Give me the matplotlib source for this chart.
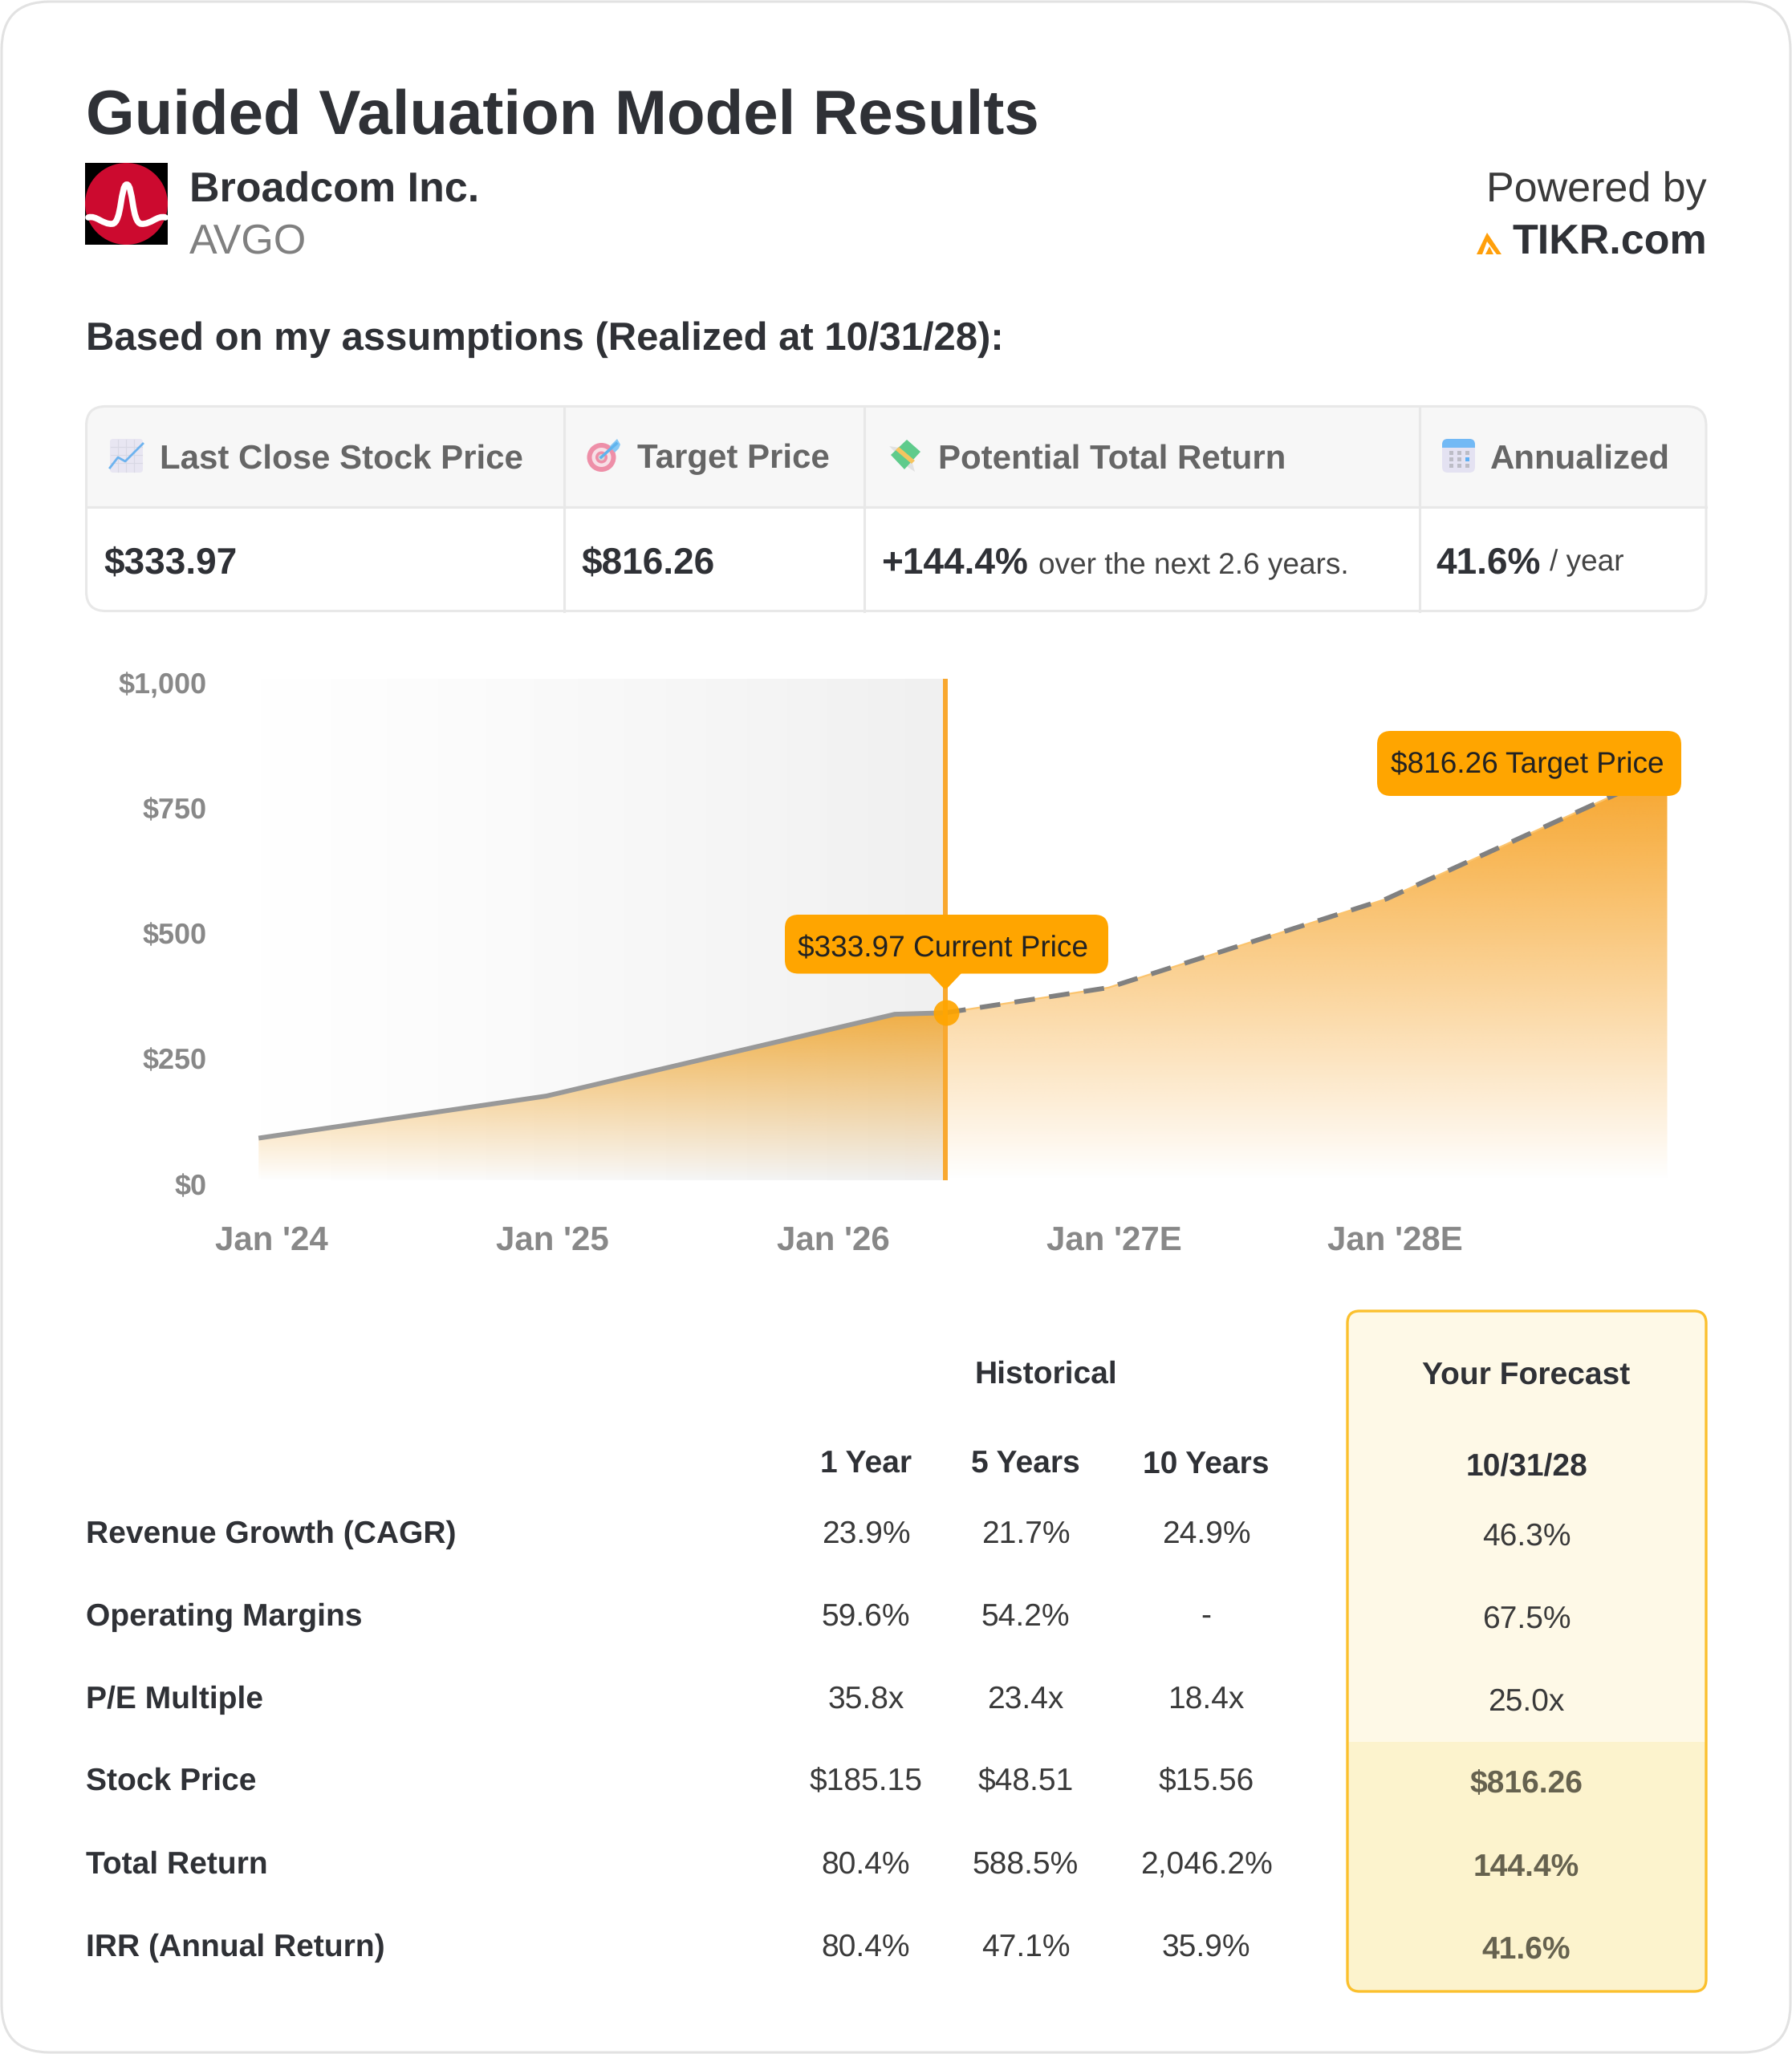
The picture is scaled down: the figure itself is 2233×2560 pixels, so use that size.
import numpy as np
import matplotlib
matplotlib.use("Agg")
import matplotlib.pyplot as plt
from matplotlib.patches import FancyBboxPatch, Rectangle, Ellipse, Polygon, Circle, PathPatch
from matplotlib.path import Path
from matplotlib.textpath import TextPath
from matplotlib.font_manager import FontProperties
from matplotlib.colors import to_rgb
from matplotlib.transforms import ScaledTranslation

plt.rcParams['font.family'] = ['Liberation Sans', 'DejaVu Sans']
plt.rcParams['text.hinting'] = 'no_hinting'
plt.rcParams['text.hinting_factor'] = 1

# ---------- data ----------
hist_years = [2023.955, 2024.98, 2026.22, 2026.40]
hist_prices = [84, 168, 331, 333.97]
fc_years = [2026.40, 2026.98, 2027.97, 2028.97]
fc_prices = [333.97, 384, 561, 816.26]
current_price = 333.97
target_price = 816.26
x_ticks = [2024, 2025, 2026, 2027, 2028]
x_labels = ["Jan '24", "Jan '25", "Jan '26", "Jan '27E", "Jan '28E"]
y_ticks = [0, 250, 500, 750, 1000]
y_labels = ["$0", "$250", "$500", "$750", "$1,000"]

row_labels = ["Revenue Growth (CAGR)", "Operating Margins", "P/E Multiple",
              "Stock Price", "Total Return", "IRR (Annual Return)"]
col_labels = ["1 Year", "5 Years", "10 Years"]
one_year = ["23.9%", "59.6%", "35.8x", "$185.15", "80.4%", "80.4%"]
five_years = ["21.7%", "54.2%", "23.4x", "$48.51", "588.5%", "47.1%"]
ten_years = ["24.9%", "-", "18.4x", "$15.56", "2,046.2%", "35.9%"]
forecast = ["46.3%", "67.5%", "25.0x", "$816.26", "144.4%", "41.6%"]

W, H = 2233, 2560
fig = plt.figure(figsize=(W / 100, H / 100), dpi=100, facecolor='white')

bg = fig.add_axes([0, 0, 1, 1], zorder=0)
bg.set_xlim(0, W); bg.set_ylim(H, 0); bg.axis('off')
top = fig.add_axes([0, 0, 1, 1], zorder=5)
top.set_xlim(0, W); top.set_ylim(H, 0); top.axis('off'); top.patch.set_alpha(0)


def S(s, w, weight='normal'):
    fp = FontProperties(family='Liberation Sans', weight=weight)
    return w * 72 / TextPath((0, 0), s, size=100, prop=fp).get_extents().width


def T(a, x, yc, s, size, weight='normal', color='#333333', ha='left'):
    a.text(x, yc + 0.358 * size / 0.72, s, fontsize=size, fontweight=weight,
           color=color, ha=ha, va='baseline')


def RB(a, x0, y0, x1, y1, r, **kw):
    p = FancyBboxPatch((x0, y0), x1 - x0, y1 - y0,
                       boxstyle=f"round,pad=0,rounding_size={r}", **kw)
    a.add_patch(p)
    return p


# outer card
RB(bg, 2, 2, W - 2, H - 2, 60, fc='white', ec='#e2e2e2', lw=2.2)

# ---------- header ----------
DARK = '#2f3136'
T(bg, 107, 139, "Guided Valuation Model Results",
  S("Guided Valuation Model Results", 1177, 'bold'), 'bold', DARK)

bg.add_patch(Rectangle((106, 203), 103, 102, fc='black', ec='none'))
bg.add_patch(Ellipse((157.5, 254), 103, 102, fc='#cc0a2f', ec='none'))
wave = Path([(110, 271), (120, 268), (128, 280), (140, 279), (152, 278), (150, 230), (158, 230),
             (166, 230), (164, 278), (176, 279), (188, 280), (196, 268), (206, 271)],
            [Path.MOVETO] + [Path.CURVE4] * 12)
bg.add_patch(PathPatch(wave, fc='none', ec='white', lw=5.5, capstyle='round'))

T(bg, 236, 233, "Broadcom Inc.", S("Broadcom Inc.", 351, 'bold'), 'bold', DARK)
T(bg, 236, 297, "AVGO", S("AVGO", 144), 'normal', '#808080')
T(bg, 2127, 232, "Powered by", S("Powered by", 272), 'normal', '#3a3a3a', ha='right')
T(bg, 2127, 298, "TIKR.com", S("TIKR.com", 240, 'bold'), 'bold', DARK, ha='right')
bg.add_patch(Polygon([(1840, 317), (1853, 290), (1871, 317), (1865, 317), (1853, 301), (1847, 317)],
                     fc='#ff9f0a', ec='none'))
bg.add_patch(Polygon([(1851, 317), (1856, 307), (1861, 317)], fc='#ff9f0a', ec='none'))
T(bg, 107, 418, "Based on my assumptions (Realized at 10/31/28):",
  S("Based on my assumptions (Realized at 10/31/28):", 1141, 'bold'), 'bold', DARK)

# ---------- summary table ----------
BORDER = '#e8e8e8'
RB(bg, 107.5, 506.5, 2126, 761.5, 24, fc='white', ec='none')
hdr = RB(bg, 107.5, 506.5, 2126, 761.5, 24, fc='#f7f7f7', ec='none')
hdr.set_clip_path(Rectangle((0, 0), W, 632, transform=bg.transData))
RB(bg, 107.5, 506.5, 2126, 761.5, 24, fc='none', ec=BORDER, lw=2.2)
bg.plot([107.5, 2126], [632, 632], color=BORDER, lw=2.2)
for xv in (703, 1077, 1768.5):
    bg.plot([xv, xv], [506.5, 761.5], color=BORDER, lw=2.2)

hsize = S("Last Close Stock Price", 452, 'bold')
HC = '#666666'
T(bg, 199, 568, "Last Close Stock Price", hsize, 'bold', HC)
T(bg, 794, 568, "Target Price", hsize, 'bold', HC)
T(bg, 1169, 568, "Potential Total Return", hsize, 'bold', HC)
T(bg, 1857, 568, "Annualized", hsize, 'bold', HC)

vsize = S("$333.97", 163, 'bold')
T(bg, 129, 698, "$333.97", vsize, 'bold', DARK)
T(bg, 724, 698, "$816.26", vsize, 'bold', DARK)
T(bg, 1098, 698, "+144.4%", vsize, 'bold', DARK)
nsize = S("over the next 2.6 years.", 381)
T(bg, 1294, 702.5, "over the next 2.6 years.", nsize, 'normal', '#444444')
T(bg, 1789, 698, "41.6%", vsize, 'bold', DARK)
T(bg, 1931, 698, "/ year", nsize, 'normal', '#444444')

# icons
RB(bg, 137, 547, 178, 589, 4, fc='#e8e6f2', ec='none')
for k in range(1, 4):
    bg.plot([137 + k * 10, 137 + k * 10], [548, 588], color='#d8d8e4', lw=0.8)
    bg.plot([138, 177], [547 + k * 10, 547 + k * 10], color='#d8d8e4', lw=0.8)
bg.plot([137, 147, 156, 178], [583, 570, 575, 553], color='#6db3ef', lw=2)

for r, c in ((18, '#ee8fa8'), (12, '#f7dfe6'), (7.5, '#ee8fa8'), (4, '#d6d6d6')):
    bg.add_patch(Circle((749.5, 570), r, fc=c, ec='none'))
bg.plot([749, 768], [570, 553], color='#5fb4ee', lw=2.5)
bg.add_patch(Polygon([(760, 556), (769, 547), (773, 554), (771, 559), (766, 564)], fc='#86c8f5', ec='none'))

bg.add_patch(Polygon([(1108, 556), (1126, 559), (1118, 566)], fc='#e2e2e2', ec='none'))
bg.add_patch(Polygon([(1140, 588), (1135, 570), (1128, 580)], fc='#e2e2e2', ec='none'))
bg.add_patch(Polygon([(1110, 567), (1130, 548), (1147, 563), (1127, 585)], fc='#5fcb8c', ec='none'))
bg.add_patch(Polygon([(1116, 561), (1120, 557), (1140, 574), (1136, 578)], fc='#f6c55f', ec='none'))

RB(bg, 1797, 547, 1838, 589, 7, fc='#e4e2f2', ec='none')
t_cal = RB(bg, 1797, 547, 1838, 589, 7, fc='#72b9f5', ec='none')
t_cal.set_clip_path(Rectangle((0, 0), W, 558, transform=bg.transData))
for i in range(3):
    for j in range(3):
        c = '#5fb0f5' if (i, j) == (2, 1) else '#bcbcc6'
        bg.add_patch(Rectangle((1805.5 + i * 10, 561.5 + j * 8), 5, 5, fc=c, ec='none'))

# ---------- chart ----------
L, R, B, Tp = 262, 2120, 1471, 846
ax = fig.add_axes([L / W, 1 - B / H, (R - L) / W, (B - Tp) / H], zorder=2)
ax.patch.set_alpha(0)
xlim = (2024 + (L - 338) / 350, 2024 + (R - 338) / 350)


def grad_image(years, prices, rgb, a_top):
    top_v = max(prices)
    poly = ax.fill_between(years, 0, prices, color='none')
    g = np.zeros((256, 2, 4))
    g[..., :3] = rgb
    g[..., 3] = np.linspace(a_top, 0, 256)[:, None]
    im = ax.imshow(g, extent=[years[0], years[-1], 0, top_v], aspect='auto',
                   origin='upper', zorder=2, interpolation='bilinear')
    im.set_clip_path(poly.get_paths()[0], transform=ax.transData)


# grey history band
band = np.ones((2, 256, 3))
band *= (1 - (1 - 0xF0 / 255) * np.linspace(0, 1, 256) ** 1.2)[None, :, None]
ax.imshow(band, extent=[hist_years[0], hist_years[-1], 0, 1000], aspect='auto', zorder=1)

grad_image(hist_years, hist_prices, to_rgb('#f0a020'), 0.82)
grad_image(fc_years, fc_prices, to_rgb('#f6a020'), 0.95)

ax.plot(fc_years, fc_prices, color='#fbc46e', lw=1.6, zorder=3)
ax.plot(hist_years, hist_prices, color='#999999', lw=4.3, zorder=4, solid_capstyle='butt', solid_joinstyle='miter')
ax.plot(fc_years, fc_prices, color='#808080', lw=4.3, zorder=4, linestyle=(0, (4.3, 3.0)),
        dash_capstyle='butt')
ax.axvline(hist_years[-1], color='#f9a82f', lw=4.3, zorder=5)
ax.scatter([hist_years[-1] + 0.003], [current_price], s=(32 * 0.72) ** 2, color='#ffa500', alpha=0.92,
           zorder=6, linewidths=0)

ax.set_xlim(*xlim)
ax.set_ylim(0, 1000)
for sp in ax.spines.values():
    sp.set_visible(False)
ax.set_xticks(x_ticks)
ax.set_xticklabels(x_labels, fontsize=S("Jan '24", 139, 'bold'), fontweight='bold', color='#888888')
ax.set_yticks(y_ticks)
ax.set_yticklabels(y_labels, fontsize=S("$1,000", 108, 'bold'), fontweight='bold', color='#888888')
ax.tick_params(axis='both', length=0)
ax.tick_params(axis='x', pad=40.5)
ax.tick_params(axis='y', pad=3.5)
shift = ScaledTranslation(0, -5 / 100, fig.dpi_scale_trans)
for lbl in ax.get_yticklabels():
    lbl.set_transform(lbl.get_transform() + shift)


# callouts, placed from the data
def data_px(x, y):
    dx, dy = ax.transData.transform((x, y))
    return top.transData.inverted().transform((dx, dy))


cx, cy = data_px(hist_years[-1], current_price)
CALL = '#ffa500'
RB(top, 978, 1140, 1381, 1213.5, 17, fc=CALL, ec='none')
top.add_patch(Polygon([(cx - 20, 1213), (cx + 20, 1213), (cx + 2, 1232), (cx - 2, 1232)], fc=CALL, ec='none'))
RB(top, 1716, 911, 2095, 992, 17, fc=CALL, ec='none')
csize = S(f"${current_price:.2f} Current Price", 358)
T(top, 994, 1178, f"${current_price:.2f} Current Price", csize, 'normal', '#222222')
T(top, 1733, 950, f"${target_price:.2f} Target Price", csize, 'normal', '#222222')

# ---------- bottom table ----------
box = (1679, 1634, 2126, 2482)
RB(bg, box[0], box[1], box[2], box[3], 15, fc='#fef9e7', ec='none')
dk = RB(bg, box[0], box[1], box[2], box[3], 15, fc='#fcf3cd', ec='none')
dk.set_clip_path(Rectangle((0, 2171), W, H - 2171, transform=bg.transData))
RB(bg, box[0], box[1], box[2], box[3], 15, fc='none', ec='#fbc02d', lw=2.4)

lab_size = S("Revenue Growth (CAGR)", 458, 'bold')
cell_size = S("2,046.2%", 163)
head_size = S("10 Years", 152, 'bold')
row_y = [1909, 2012, 2115, 2217, 2321, 2424]
col_x = [1079, 1278, 1503]
FX = 1902

T(bg, 1303.5, 1709.5, "Historical", head_size, 'bold', DARK, ha='center')
T(bg, FX, 1712, "Your Forecast", head_size, 'bold', DARK, ha='center')
for xv, c in zip(col_x, col_labels):
    T(bg, xv, 1821.5, c, head_size, 'bold', DARK, ha='center')
T(bg, FX, 1825, "10/31/28", head_size, 'bold', DARK, ha='center')

for i, yv in enumerate(row_y):
    T(bg, 107, yv, row_labels[i], lab_size, 'bold', DARK)
    for xv, col in zip(col_x, (one_year, five_years, ten_years)):
        T(bg, xv, yv, col[i], cell_size, 'normal', '#3a3a3a', ha='center')
    if i < 3:
        T(bg, FX, yv + 3, forecast[i], cell_size, 'normal', '#3a3a3a', ha='center')
    else:
        T(bg, FX, yv + 3, forecast[i], cell_size, 'bold', '#66624f', ha='center')

fig.savefig('out.png', dpi=100, facecolor='white')
